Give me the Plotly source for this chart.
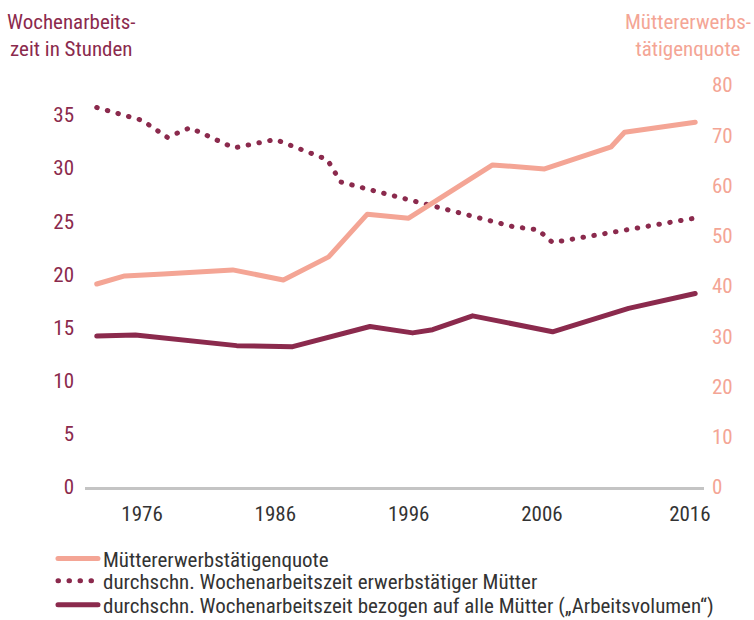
import plotly.graph_objects as go

# ---------------- data ----------------
quote_years = [1972.6, 1974.7, 1977.6, 1979.8, 1982.8, 1986.6, 1990.0, 1992.9,
               1996.0, 2002.3, 2006.2, 2011.2, 2012.2, 2017.5]
quote_values = [40.4, 42.0, 42.4, 42.8, 43.2, 41.2, 45.8, 54.3,
                53.5, 64.1, 63.3, 67.7, 70.6, 72.6]

hours_years = [1972.6, 1976.0, 1977.9, 1979.6, 1982.9, 1986.0, 1989.9, 1990.9,
               1993.3, 2003.8, 2005.7, 2006.8, 2017.5]
hours_values = [35.7, 34.5, 32.9, 33.8, 31.9, 32.7, 30.8, 28.7,
                27.9, 24.5, 24.2, 23.0, 25.3]

volume_years = [1972.6, 1975.5, 1983.1, 1987.3, 1993.1, 1996.3, 1997.8, 2000.8,
                2006.8, 2012.5, 2017.5]
volume_values = [14.2, 14.3, 13.3, 13.2, 15.1, 14.5, 14.8, 16.1,
                 14.6, 16.8, 18.2]

x_tick_vals = [1976, 1986, 1996, 2006, 2017.1]
x_tick_text = ["1976", "1986", "1996", "2006", "2016"]
left_ticks = [0, 5, 10, 15, 20, 25, 30, 35]
right_ticks = [0, 10, 20, 30, 40, 50, 60, 70, 80]

names = ["Müttererwerbstätigenquote",
         "durchschn. Wochenarbeitszeit erwerbstätiger Mütter",
         "durchschn. Wochenarbeitszeit bezogen auf alle Mütter (\u201eArbeitsvolumen\u201c)"]

LIGHT = "#f4a595"
DARK = "#8b2a4d"
FONT = "Liberation Sans Narrow, Roboto Condensed, Liberation Sans, sans-serif"

fig = go.Figure()
fig.add_trace(go.Scatter(x=quote_years, y=quote_values, name=names[0], yaxis="y2",
                         legend="legend", mode="lines", line=dict(color=LIGHT, width=5)))
fig.add_trace(go.Scatter(x=hours_years, y=hours_values, name=names[1], yaxis="y",
                         legend="legend2", mode="lines",
                         line=dict(color=DARK, width=5, dash="0.5px,10.5px")))
fig.add_trace(go.Scatter(x=volume_years, y=volume_values, name=names[2], yaxis="y",
                         legend="legend3", mode="lines", line=dict(color=DARK, width=5)))

leg_common = dict(x=-0.0517, xanchor="left", yanchor="middle",
                  font=dict(family=FONT, size=21, color="#333333"),
                  itemwidth=40, bgcolor="rgba(0,0,0,0)")

fig.update_layout(
    width=754, height=620,
    margin=dict(l=85, r=50, t=85, b=133, autoexpand=False),
    paper_bgcolor="white", plot_bgcolor="white",
    font=dict(family=FONT, size=21, color="#333333"),
    showlegend=True,
    legend=dict(y=-0.179, **leg_common),
    legend2=dict(y=-0.2338, **leg_common),
    legend3=dict(y=-0.2935, **leg_common),
    xaxis=dict(range=[1971.72, 2018.16], tickvals=x_tick_vals, ticktext=x_tick_text,
               showgrid=False, zeroline=False, showline=True, linecolor="#c4c4c4",
               linewidth=3, ticks="", ticklabelstandoff=6,
               tickfont=dict(family=FONT, size=21, color="#333333")),
    yaxis=dict(range=[0, 37.82], tickvals=left_ticks, showgrid=False, zeroline=False,
               showline=False, ticks="", ticklabelstandoff=10,
               tickfont=dict(family=FONT, size=21, color=DARK)),
    yaxis2=dict(range=[0, 80], tickvals=right_ticks, overlaying="y", side="right",
                showgrid=False, zeroline=False, showline=False, ticks="",
                ticklabelstandoff=7,
                tickfont=dict(family=FONT, size=21, color=LIGHT)),
    annotations=[
        dict(text="Wochenarbeits-<br>zeit in Stunden", xref="paper", yref="paper",
             x=-0.0226, y=1.124, xanchor="center", yanchor="middle", showarrow=False,
             align="center", font=dict(family=FONT, size=21, color=DARK)),
        dict(text="Müttererwerbs-<br>tätigenquote", xref="paper", yref="paper",
             x=0.974, y=1.124, xanchor="center", yanchor="middle", showarrow=False,
             align="center", font=dict(family=FONT, size=21, color=LIGHT)),
    ],
)

post = """
document.body.style.margin = '0';
document.body.style.padding = '0';
document.querySelectorAll('.scatterlayer path.js-line, .legendlines path').forEach(function(p){
  p.style.strokeLinecap = 'round';
  p.style.strokeLinejoin = 'round';
});
"""
fig.write_html("out.html", post_script=post, config={"displayModeBar": False})
